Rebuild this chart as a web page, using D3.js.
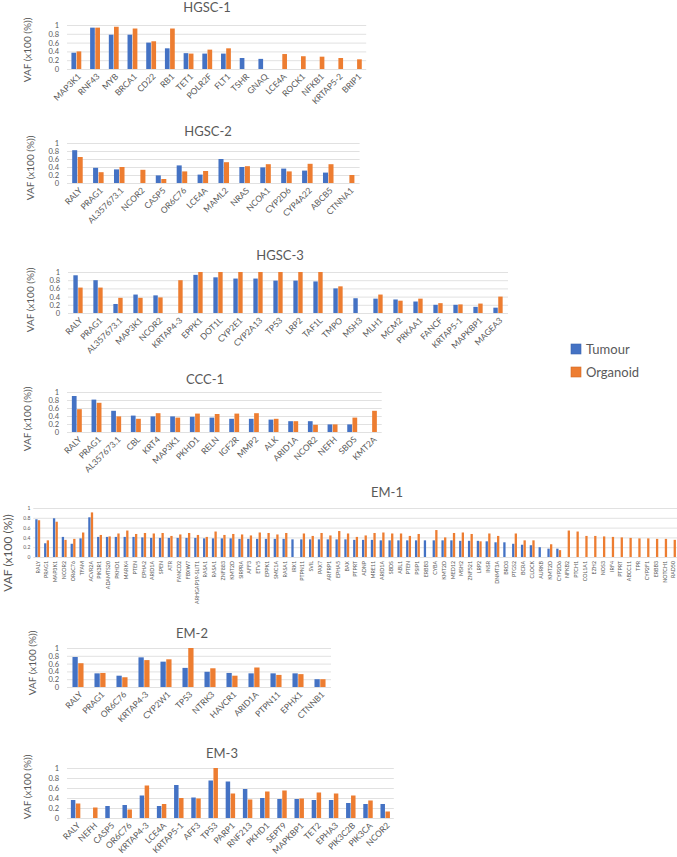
<!DOCTYPE html>
<html><head><meta charset="utf-8">
<script src="https://cdn.jsdelivr.net/npm/d3@7"></script>
<style>body{margin:0;background:#fff;} svg{display:block;font-family:Lato,'Liberation Sans',sans-serif;}</style>
</head><body><svg id="c" width="677" height="857"></svg>
<script>
const yTicks = [0, 0.2, 0.4, 0.6, 0.8, 1];
const yTickLabels = ["0", "0.2", "0.4", "0.6", "0.8", "1"];
const seriesNames = ["Tumour", "Organoid"];
const seriesColors = ["#4472C4", "#ED7D31"];
const yAxisTitle = "VAF (x100 (%))";

const hgsc1Genes = ["MAP3K1","RNF43","MYB","BRCA1","CD22","RB1","TET1","POLR2F","FLT1","TSHR","GNAQ","LCE4A","ROCK1","NFKB1","KRTAP5-2","BRIP1"];
const hgsc1Tumour = [0.37,0.94,0.78,0.78,0.60,0.47,0.36,0.35,0.35,0.25,0.23,null,null,null,null,null];
const hgsc1Organoid = [0.40,0.94,0.96,0.92,0.63,0.92,0.35,0.44,0.47,null,null,0.34,0.29,0.28,0.25,0.22];

const hgsc2Genes = ["RALY","PRAG1","AL357673.1","NCOR2","CASP5","OR6C76","LCE4A","MAML2","NRAS","NCOA1","CYP2D6","CYP4A22","ABCB5","CTNNA1"];
const hgsc2Tumour = [0.82,0.38,0.34,null,0.19,0.44,0.21,0.60,0.40,0.39,0.36,0.31,0.26,null];
const hgsc2Organoid = [0.65,0.27,0.40,0.33,0.10,0.29,0.30,0.52,0.42,0.47,0.29,0.48,0.47,0.20];

const hgsc3Genes = ["RALY","PRAG1","AL357673.1","MAP3K1","NCOR2","KRTAP4-3","EPPK1","DOT1L","CYP2E1","CYP2A13","TP53","LRP2","TAF1L","TMPO","MSH3","MLH1","MCM2","PRKAA1","FANCF","KRTAP5-1","MAPKBP1","MAGEA3"];
const hgsc3Tumour = [0.92,0.80,0.22,0.45,0.43,null,0.93,0.87,0.84,0.84,0.79,0.79,0.77,0.60,0.36,0.35,0.33,0.28,0.20,0.20,0.15,0.13];
const hgsc3Organoid = [0.62,0.62,0.37,0.37,0.38,0.80,1.0,1.0,1.0,1.0,1.0,1.0,1.0,0.65,null,0.45,0.30,0.35,0.24,0.21,0.23,0.40];

const ccc1Genes = ["RALY","PRAG1","AL357673.1","CBL","KRT4","MAP3K1","PKHD1","RELN","IGF2R","MMP2","ALK","ARID1A","NCOR2","NEFH","SBDS","KMT2A"];
const ccc1Tumour = [0.90,0.81,0.53,0.41,0.39,0.39,0.38,0.36,0.33,0.33,0.31,0.27,0.27,0.19,0.19,null];
const ccc1Organoid = [0.57,0.73,0.39,0.33,0.47,0.36,0.46,0.45,0.46,0.47,0.33,0.27,0.18,0.19,0.36,0.53];

const em1Genes = ["RALY","PRAG1","MAP3K1","NCOR2","OR6C76","TFAM","ACVR2A","PIK3R1","ADAMTS20","PKHD1","MARK4","PTEN","EPHA2","ARID1A","SPEN","ATR","FANCD2","FBXW7","ARHGAP19-SLIT1","RASA1","RASA1","ZNF883","KMT2D","SIRPRA","AFF3","ETV5","EPPK1","SMC1A","RASA1","IRX1","PTPN11","SVIL","PAX7","ARFRP1","EPHA5","BAX","PTPRT","ADNP","MRE11","ARID1A","SBDS","ABL1","PTEN","PSIP1","ERBB3","CYBA","KMT2D","MED12","MSH2","ZNF521","LRP2","INSR","DNMT3A","BRD3","PTGS2","BCRA","CLOCK","AURKB","KMT2D","CYP2D6","NFKB2","PTCH1","COL1A1","EZH2","NOS3","IRF4","PTPRT","ABCC11","TPR","CYP2F1","ERBB3","NOTCH1","RAD50"];
const em1Tumour = [0.77,0.28,0.79,0.41,0.27,0.38,0.81,0.41,0.41,0.41,0.41,0.41,0.40,0.39,0.39,0.39,0.39,0.39,0.39,0.38,0.38,0.38,0.38,0.37,0.37,0.37,0.37,0.37,0.37,0.36,0.36,0.36,0.36,0.36,0.36,0.36,0.35,0.35,0.35,0.34,0.34,0.34,0.34,0.34,0.34,0.34,0.34,0.34,0.33,0.33,0.33,0.32,0.30,0.30,0.27,0.25,0.24,0.20,0.17,0.17,null,null,null,null,null,null,null,null,null,null,null,null,null];
const em1Organoid = [0.75,0.34,0.72,0.35,0.37,0.50,0.91,0.45,0.42,0.48,0.54,0.47,0.49,0.48,0.49,0.43,0.46,0.49,0.45,0.41,0.52,0.45,0.47,0.46,0.44,0.50,0.49,0.46,0.49,null,0.48,0.43,0.49,0.44,0.53,0.48,0.41,0.44,0.49,0.50,0.48,0.48,0.43,0.47,null,0.55,0.40,0.49,0.50,0.47,0.32,0.48,0.43,null,0.48,0.34,0.34,null,0.26,0.14,0.54,0.52,0.43,0.43,0.42,0.41,0.40,0.39,0.38,0.38,0.37,0.37,0.35];

const em2Genes = ["RALY","PRAG1","OR6C76","KRTAP4-3","CYP2W1","TP53","NTRK3","HAVCR1","ARID1A","PTPN11","EPHX1","CTNNB1"];
const em2Tumour = [0.77,0.35,0.29,0.76,0.65,0.49,0.39,0.36,0.35,0.35,0.35,0.20];
const em2Organoid = [0.61,0.36,0.25,0.69,0.71,1.0,0.48,0.29,0.50,0.31,0.33,0.20];

const em3Genes = ["RALY","NEFH","CASP5","OR6C76","KRTAP4-3","LCE4A","KRTAP5-1","AFF3","TP53","PARP1","RNF213","PKHD1","SEPT9","MAPKBP1","TET2","EPHA3","PIK3C2B","PIK3CA","NCOR2"];
const em3Tumour = [0.36,null,0.24,0.26,0.45,0.24,0.66,0.41,0.75,0.73,0.58,0.40,0.38,0.38,0.36,0.36,0.30,0.28,0.28];
const em3Organoid = [0.29,0.21,null,0.17,0.65,0.28,0.40,0.39,1.0,0.49,0.37,0.53,0.55,0.39,0.51,0.49,0.45,0.35,0.13];

const panels = [
  {title:"HGSC-1", genes:hgsc1Genes, t:hgsc1Tumour, o:hgsc1Organoid, x0:67, band:18.7, yTop:25, yZero:69, tx:207, ty:12, lx:27, ly:50, rot:-45, tickFs:7.5, labFs:8.5, titleFs:13, yFs:10, tickPad:8, bw:0.25},
  {title:"HGSC-2", genes:hgsc2Genes, t:hgsc2Tumour, o:hgsc2Organoid, x0:67, band:20.9, yTop:143, yZero:183, tx:208, ty:136, lx:30, ly:168, rot:-45, tickFs:7.5, labFs:8.5, titleFs:13, yFs:10, tickPad:8, bw:0.24},
  {title:"HGSC-3", genes:hgsc3Genes, t:hgsc3Tumour, o:hgsc3Organoid, x0:68, band:20, yTop:272, yZero:313, tx:280, ty:260, lx:30, ly:300, rot:-45, tickFs:7.5, labFs:8.5, titleFs:13, yFs:10, tickPad:8, bw:0.22},
  {title:"CCC-1", genes:ccc1Genes, t:ccc1Tumour, o:ccc1Organoid, x0:67, band:19.67, yTop:392, yZero:432, tx:205, ty:384, lx:27, ly:419, rot:-45, tickFs:7.5, labFs:8.5, titleFs:13, yFs:10, tickPad:8, bw:0.24},
  {title:"EM-1", genes:em1Genes, t:em1Tumour, o:em1Organoid, x0:33.3, band:8.83, yTop:508, yZero:557, tx:387, ty:497, lx:8, ly:553, rot:-90, tickFs:5, labFs:5.3, titleFs:13, yFs:12, tickPad:3, bw:0.26},
  {title:"EM-2", genes:em2Genes, t:em2Tumour, o:em2Organoid, x0:67, band:22, yTop:648, yZero:687, tx:192, ty:638, lx:32, ly:663, rot:-45, tickFs:7.5, labFs:8.5, titleFs:13, yFs:10, tickPad:8, bw:0.24},
  {title:"EM-3", genes:em3Genes, t:em3Tumour, o:em3Organoid, x0:67, band:17.2, yTop:768, yZero:818, tx:222, ty:758, lx:27, ly:787, rot:-45, tickFs:7.5, labFs:8.5, titleFs:13, yFs:10, tickPad:8, bw:0.26}
];

const svg = d3.select("#c");
const textCol = "#595959";

panels.forEach(p => {
  const g = svg.append("g");
  const n = p.genes.length;
  const x = d3.scaleBand().domain(d3.range(n)).range([p.x0, p.x0 + p.band * n]).paddingInner(0).paddingOuter(0);
  const y = d3.scaleLinear().domain([0, 1]).range([p.yZero, p.yTop]);
  const w = p.band * n;

  const ya = g.append("g").attr("transform", `translate(${p.x0},0)`)
    .call(d3.axisLeft(y).tickValues(yTicks).tickFormat((d, i) => yTickLabels[i]).tickSize(-w).tickPadding(p.tickPad));
  ya.select(".domain").remove();
  ya.selectAll("line").attr("stroke", "#D9D9D9").attr("stroke-width", 0.8);
  ya.selectAll("text").attr("fill", textCol).style("font-size", p.tickFs + "px").style("font-family", "Lato,'Liberation Sans',sans-serif");

  const bw = p.band * p.bw;
  const gap = p.rot === -90 ? 0.3 : 0.5;
  [p.t, p.o].forEach((vals, si) => {
    g.append("g").selectAll("rect").data(vals.map((v, i) => ({v, i})).filter(d => d.v != null))
      .join("rect")
      .attr("x", d => x(d.i) + x.bandwidth() / 2 + (si === 0 ? -bw - gap / 2 : gap / 2))
      .attr("width", bw)
      .attr("y", d => y(d.v))
      .attr("height", d => y(0) - y(d.v))
      .attr("fill", seriesColors[si]);
  });

  const xa = g.append("g").attr("transform", `translate(0,${p.yZero})`)
    .call(d3.axisBottom(x).tickFormat(i => p.genes[i]).tickSize(0));
  xa.select(".domain").remove();
  xa.selectAll("text")
    .attr("fill", textCol)
    .style("font-size", p.labFs + "px")
    .style("font-family", "Lato,'Liberation Sans',sans-serif")
    .attr("text-anchor", "end")
    .attr("x", 0).attr("y", 0).attr("dy", "0.35em")
    .attr("transform", p.rot === -90 ? "translate(0,4) rotate(-90)" : "translate(3,6) rotate(-45)");

  g.append("text").attr("x", p.tx).attr("y", p.ty).attr("text-anchor", "middle")
    .attr("fill", textCol).style("font-size", p.titleFs + "px").text(p.title);

  g.append("text").attr("transform", `translate(${p.lx},${p.ly}) rotate(-90)`)
    .attr("text-anchor", "middle").attr("dy", "0.35em")
    .attr("fill", textCol).style("font-size", p.yFs + "px").text(yAxisTitle);
});

const lg = svg.append("g").attr("transform", "translate(571,344)");
seriesNames.forEach((s, i) => {
  lg.append("rect").attr("x", 0).attr("y", i * 23).attr("width", 10).attr("height", 10)
    .attr("fill", seriesColors[i]).attr("stroke", i === 0 ? "#3A63AD" : "#D06A26").attr("stroke-width", 0.6);
  lg.append("text").attr("x", 15).attr("y", i * 23 + 5).attr("dy", "0.35em")
    .attr("fill", textCol).style("font-size", "13px").text(s);
});
</script>
</body></html>
